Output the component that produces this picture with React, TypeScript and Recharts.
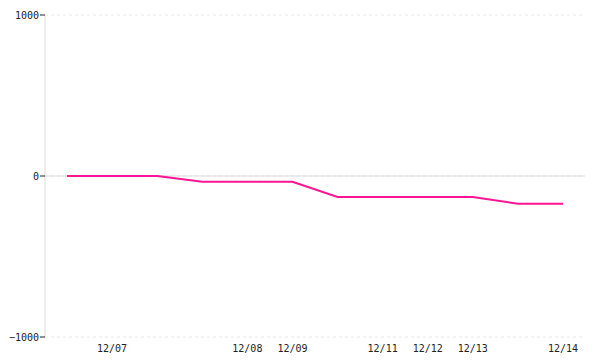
import { LineChart, Line, XAxis, YAxis, CartesianGrid, ReferenceLine } from 'recharts';

const dates = ['', '12/07', '', '', '12/08', '12/09', '', '12/11', '12/12', '12/13', '', '12/14'];
const balance = [0, 0, 0, -36, -36, -36, -130, -130, -130, -130, -172, -172];
const yTicks = [-1000, 0, 1000];

const data = dates.map((date, i) => ({ date, balance: balance[i] }));

const tickStyle = { fontFamily: '"DejaVu Sans Mono", monospace', fontSize: 10, fill: '#222' };

// the original uses a real minus sign on negative ticks
const formatY = (v: number) => String(v).replace('-', '\u2212');

const App = () => {
  return (
    <div style={{ position: 'absolute', left: 0, top: 0, width: 600, height: 360, background: '#fff' }}>
      <LineChart width={600} height={360} data={data} margin={{ top: 15, right: 15, left: 0, bottom: 0 }}>
        <CartesianGrid vertical={false} stroke="#e8e8e8" strokeDasharray="3 3" />
        <XAxis
          dataKey="date"
          interval={0}
          axisLine={false}
          tickLine={false}
          height={23}
          padding={{ left: 22, right: 22 }}
          tick={tickStyle}
        />
        <YAxis
          width={45}
          domain={[-1000, 1000]}
          ticks={yTicks}
          tickFormatter={formatY}
          axisLine={{ stroke: '#ddd' }}
          tickLine={{ stroke: '#222' }}
          tickSize={5}
          tickMargin={1}
          tick={tickStyle}
        />
        <ReferenceLine y={0} stroke="#ddd" strokeWidth={1} />
        <Line
          type="linear"
          dataKey="balance"
          stroke="#ff1493"
          strokeWidth={2}
          dot={false}
          isAnimationActive={false}
        />
      </LineChart>
    </div>
  );
};

export default App;
